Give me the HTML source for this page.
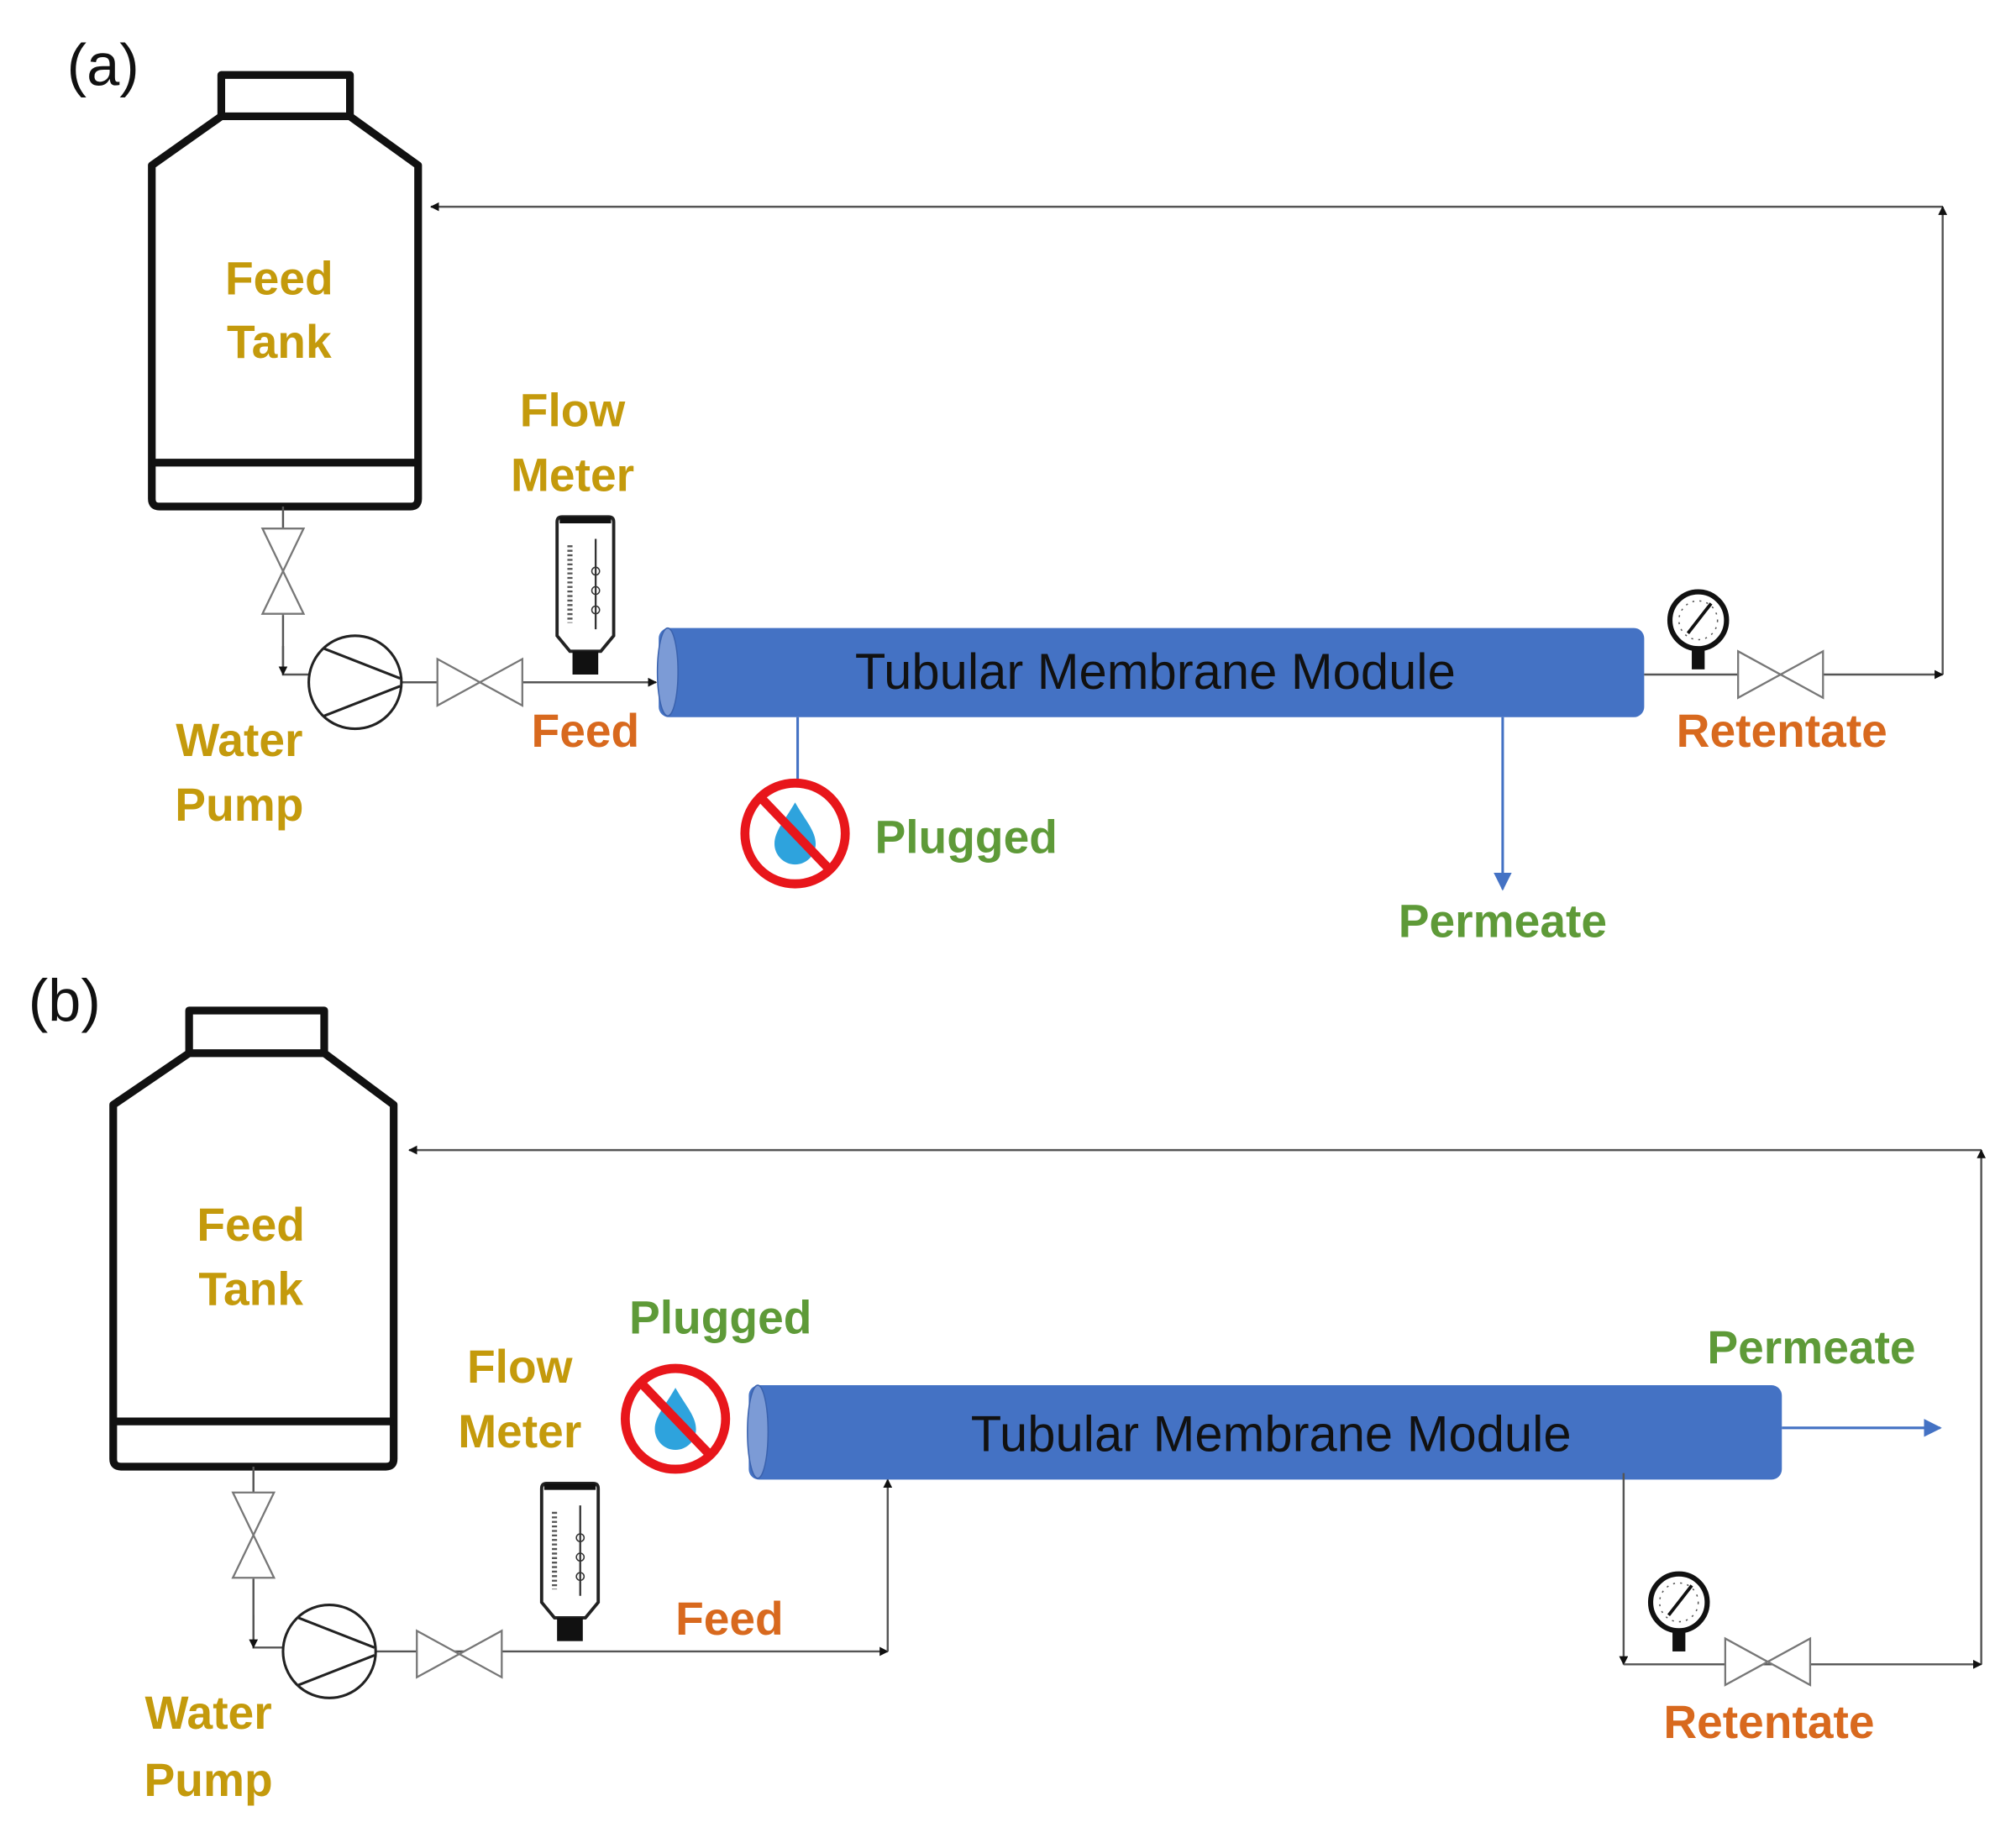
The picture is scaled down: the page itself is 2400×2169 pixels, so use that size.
<!DOCTYPE html>
<html><head><style>
html,body{margin:0;padding:0;background:#fff;}
svg{display:block;}
text{font-family:"Liberation Sans",sans-serif;}
.g{fill:#C49A0C;font-weight:bold;font-size:36px;text-anchor:middle;}
.o{fill:#D8691E;font-weight:bold;font-size:36px;text-anchor:middle;}
.gr{fill:#5E9A38;font-weight:bold;font-size:36px;}
.t{fill:#111;font-size:39px;text-anchor:middle;}
.ln{stroke:#555;stroke-width:1.6;fill:none;}
.v{stroke:#777;stroke-width:1.5;fill:#fff;}
.tank{stroke:#111;stroke-width:6;fill:none;stroke-linejoin:round;}
</style></head><body>
<svg width="2400" height="2169" viewBox="0 0 1567 1410" preserveAspectRatio="none" xmlns="http://www.w3.org/2000/svg">
<defs>
<marker id="ah" viewBox="0 0 10 10" refX="9" refY="5" markerWidth="7" markerHeight="7" orient="auto" markerUnits="userSpaceOnUse"><path d="M0,0 L10,5 L0,10 z" fill="#111"/></marker>
<marker id="bh" viewBox="0 0 10 10" refX="9" refY="5" markerWidth="14" markerHeight="14" orient="auto" markerUnits="userSpaceOnUse"><path d="M0,0 L10,5 L0,10 z" fill="#4472C4"/></marker>
<g id="pump"><circle cx="0" cy="0" r="36" fill="#fff" stroke="#222" stroke-width="2"/><line x1="-24" y1="-26" x2="35" y2="-3" stroke="#222" stroke-width="2"/><line x1="-24" y1="26" x2="35" y2="3" stroke="#222" stroke-width="2"/></g>
<g id="hv"><path d="M-33,-18 L33,18 L33,-18 L-33,18 Z" class="v"/></g>
<g id="vv"><path d="M-16,-33 L16,33 L-16,33 L16,-33 Z" class="v"/></g>
<g id="fm"><path d="M-22,-58 Q-22,-62 -18,-62 L18,-62 Q22,-62 22,-58 L22,30 L12,42 L-12,42 L-22,30 Z" fill="#fff" stroke="#222" stroke-width="2.5"/><rect x="-20" y="-62" width="40" height="5" fill="#111"/><rect x="-10" y="42" width="20" height="18" fill="#111"/><line x1="-12" y1="-40" x2="-12" y2="20" stroke="#555" stroke-width="4" stroke-dasharray="1.5 2"/><line x1="8" y1="-45" x2="8" y2="25" stroke="#333" stroke-width="1.5"/><circle cx="8" cy="-20" r="3" fill="none" stroke="#333"/><circle cx="8" cy="-5" r="3" fill="none" stroke="#333"/><circle cx="8" cy="10" r="3" fill="none" stroke="#333"/></g>
<g id="gauge"><circle cx="0" cy="0" r="22" fill="#fff" stroke="#111" stroke-width="4"/><line x1="-8" y1="10" x2="10" y2="-13" stroke="#111" stroke-width="2.5"/><circle cx="0" cy="0" r="15" fill="none" stroke="#555" stroke-width="1" stroke-dasharray="1.5 4"/><rect x="-5" y="22" width="10" height="16" fill="#111"/></g>
<g id="plug"><circle cx="0" cy="0" r="39" fill="#fff" stroke="#E8161B" stroke-width="7"/><path d="M0,-24 C8,-10 16,-2 16,8 A16,16 0 0 1 -16,8 C-16,-2 -8,-10 0,-24 Z" fill="#2EA3DD"/><line x1="-26" y1="-27" x2="26" y2="27" stroke="#E8161B" stroke-width="7"/></g>
</defs>

<!-- (a) -->
<text x="52" y="66" font-size="46" fill="#111">(a)</text>
<rect x="172" y="58" width="100" height="32" class="tank"/>
<path d="M172,90 L118,128 L118,386 Q118,392 124,392 L319,392 Q325,392 325,386 L325,128 L272,90" class="tank"/>
<line x1="118" y1="358" x2="325" y2="358" stroke="#111" stroke-width="6"/>
<text x="217" y="228" class="g">Feed</text><text x="217" y="277" class="g">Tank</text>
<line x1="1510" y1="160" x2="335" y2="160" class="ln" marker-end="url(#ah)"/>
<line x1="1510" y1="522" x2="1510" y2="160" class="ln" marker-end="url(#ah)"/>
<line x1="220" y1="392" x2="220" y2="476" class="ln"/>
<use href="#vv" x="220" y="442"/>
<polyline points="220,476 220,522 240,522" class="ln"/>
<line x1="220" y1="500" x2="220" y2="522" class="ln" marker-end="url(#ah)"/>
<line x1="312" y1="528" x2="510" y2="528" class="ln" marker-end="url(#ah)"/>
<use href="#pump" x="276" y="528"/>
<use href="#hv" x="373" y="528"/>
<use href="#fm" x="455" y="462"/>
<text x="445" y="330" class="g">Flow</text><text x="445" y="380" class="g">Meter</text>
<text x="455" y="578" class="o">Feed</text>
<text x="186" y="585" class="g">Water</text><text x="186" y="635" class="g">Pump</text>
<rect x="512" y="486" width="766" height="69" rx="8" fill="#4472C4"/>
<ellipse cx="519" cy="520" rx="8" ry="34" fill="#7C9BD6" stroke="#3A62AE"/>
<text x="898" y="533" class="t">Tubular Membrane Module</text>
<line x1="620" y1="555" x2="620" y2="605" stroke="#4472C4" stroke-width="2"/>
<use href="#plug" x="618" y="645"/>
<text x="680" y="660" class="gr">Plugged</text>
<line x1="1168" y1="555" x2="1168" y2="688" stroke="#4472C4" stroke-width="2" marker-end="url(#bh)"/>
<text x="1168" y="725" class="gr" text-anchor="middle">Permeate</text>
<line x1="1278" y1="522" x2="1510" y2="522" class="ln" marker-end="url(#ah)"/>
<use href="#gauge" x="1320" y="480"/>
<use href="#hv" x="1384" y="522"/>
<text x="1385" y="578" class="o">Retentate</text>

<!-- (b) -->
<text x="22" y="790" font-size="46" fill="#111">(b)</text>
<rect x="147" y="782" width="105" height="33" class="tank"/>
<path d="M147,815 L88,855 L88,1129 Q88,1135 94,1135 L300,1135 Q306,1135 306,1129 L306,855 L252,815" class="tank"/>
<line x1="88" y1="1100" x2="306" y2="1100" stroke="#111" stroke-width="6"/>
<text x="195" y="960" class="g">Feed</text><text x="195" y="1010" class="g">Tank</text>
<line x1="1540" y1="890" x2="318" y2="890" class="ln" marker-end="url(#ah)"/>
<line x1="1540" y1="1288" x2="1540" y2="890" class="ln" marker-end="url(#ah)"/>
<line x1="197" y1="1135" x2="197" y2="1222" class="ln"/>
<use href="#vv" x="197" y="1188"/>
<polyline points="197,1222 197,1275 220,1275" class="ln"/>
<line x1="197" y1="1250" x2="197" y2="1275" class="ln" marker-end="url(#ah)"/>
<line x1="292" y1="1278" x2="690" y2="1278" class="ln" marker-end="url(#ah)"/>
<line x1="690" y1="1278" x2="690" y2="1145" class="ln" marker-end="url(#ah)"/>
<use href="#pump" x="256" y="1278"/>
<use href="#hv" x="357" y="1280"/>
<use href="#fm" x="443" y="1210"/>
<text x="404" y="1070" class="g">Flow</text><text x="404" y="1120" class="g">Meter</text>
<text x="560" y="1032" class="gr" text-anchor="middle">Plugged</text>
<use href="#plug" x="525" y="1098"/>
<rect x="582" y="1072" width="803" height="73" rx="8" fill="#4472C4"/>
<ellipse cx="589" cy="1108" rx="8" ry="36" fill="#7C9BD6" stroke="#3A62AE"/>
<text x="988" y="1123" class="t">Tubular Membrane Module</text>
<text x="567" y="1265" class="o">Feed</text>
<text x="162" y="1338" class="g">Water</text><text x="162" y="1390" class="g">Pump</text>
<line x1="1385" y1="1105" x2="1508" y2="1105" stroke="#4472C4" stroke-width="2" marker-end="url(#bh)"/>
<text x="1408" y="1055" class="gr" text-anchor="middle">Permeate</text>
<line x1="1262" y1="1140" x2="1262" y2="1288" class="ln" marker-end="url(#ah)"/>
<line x1="1262" y1="1288" x2="1540" y2="1288" class="ln" marker-end="url(#ah)"/>
<use href="#gauge" x="1305" y="1240"/>
<use href="#hv" x="1374" y="1286"/>
<text x="1375" y="1345" class="o">Retentate</text>
</svg>
</body></html>
